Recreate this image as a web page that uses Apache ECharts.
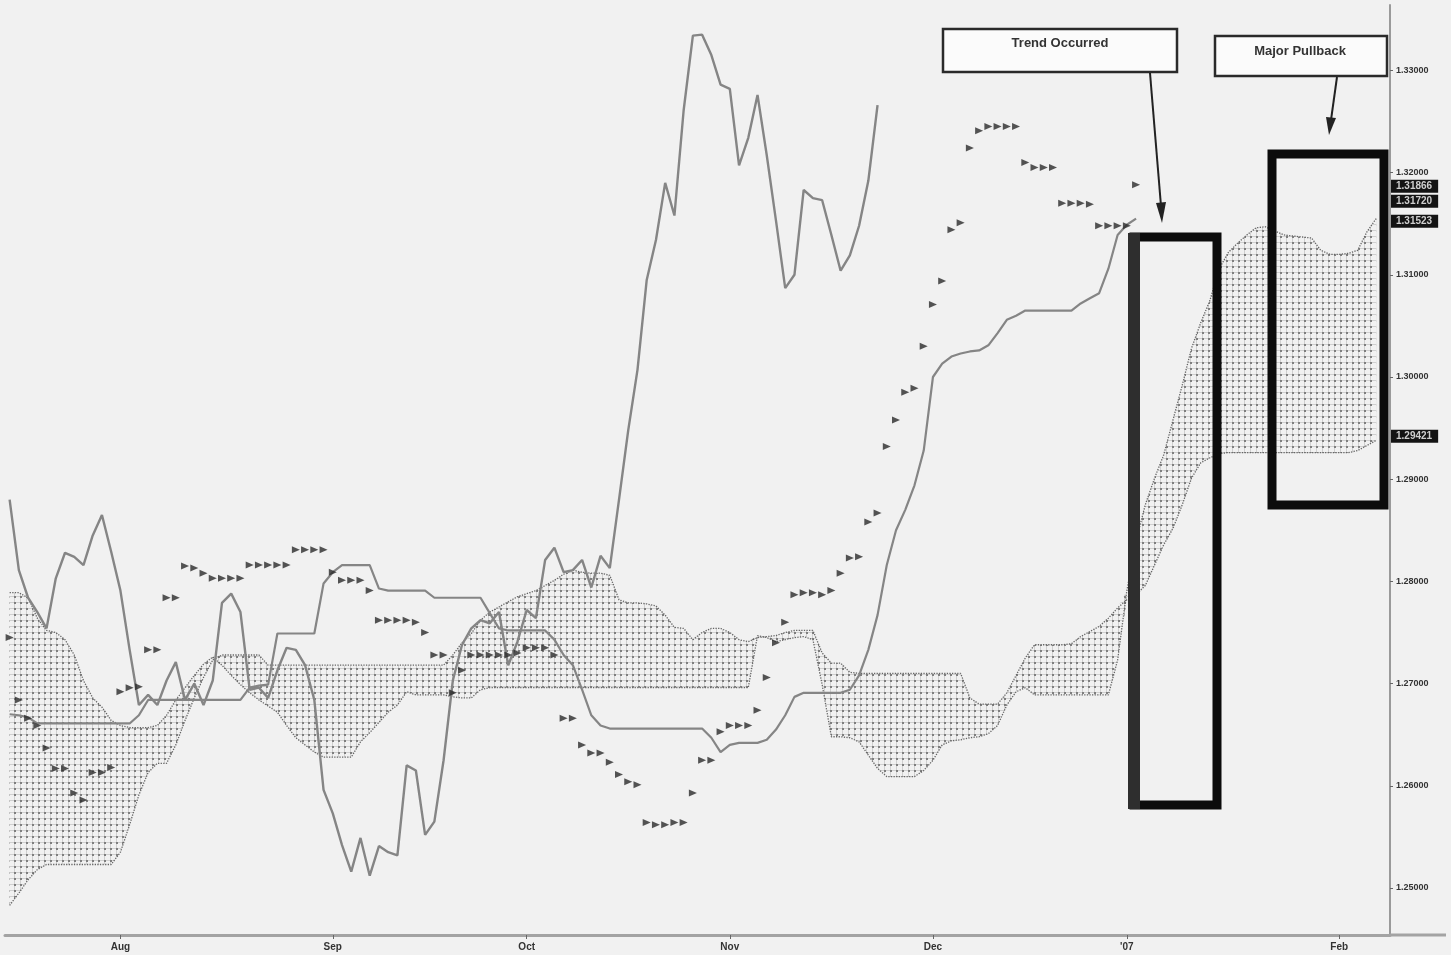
<!DOCTYPE html>
<html><head><meta charset="utf-8">
<script src="https://cdn.jsdelivr.net/npm/echarts@6/dist/echarts.min.js"></script>
<style>html,body{margin:0;padding:0;background:#f1f1f1}#c{width:1451px;height:955px}</style>
</head><body><div id="c"></div><script>
// ---- categories: trading days from 14 Jul 2006 to 8 Feb 2007 ----
const dates = [];
(function(){ const d = new Date(Date.UTC(2006,6,14));
  while (dates.length < 150) { const w = d.getUTCDay(); if (w !== 0 && w !== 6) dates.push(d.toISOString().slice(0,10)); d.setUTCDate(d.getUTCDate()+1); } })();
const monthTicks = {'2006-08-01':'Aug','2006-09-01':'Sep','2006-10-02':'Oct','2006-11-01':'Nov','2006-12-01':'Dec','2007-01-01':"'07",'2007-02-01':'Feb'};
const yTicks = [1.25,1.26,1.27,1.28,1.29,1.30,1.31,1.32,1.33];
const tagValues = [1.31866,1.31720,1.31523,1.29421];

// Chikou span (lagging line)
const chikou = [1.2880,1.2811,1.2784,1.2770,1.2754,1.2803,1.2828,1.2824,1.2816,1.2845,
 1.2865,1.2829,1.2791,1.2733,1.2679,1.2689,1.2679,1.2703,1.2721,1.2684,
 1.2700,1.2679,1.2703,1.2779,1.2788,1.2770,1.2694,1.2696,1.2686,1.2713,
 1.2735,1.2733,1.2718,1.2684,1.2596,1.2573,1.2542,1.2516,1.2549,1.2512,
 1.2541,1.2535,1.2532,1.2620,1.2615,1.2552,1.2565,1.2625,1.2703,1.2738,
 1.2754,1.2762,1.2759,1.2770,1.2718,1.2741,1.2772,1.2764,1.2821,1.2833,
 1.2809,1.2811,1.2821,1.2794,1.2825,1.2813,1.2880,1.2948,1.3007,1.3095,
 1.3134,1.3190,1.3158,1.3261,1.3334,1.3335,1.3315,1.3286,1.3282,1.3207,
 1.3234,1.3276,1.3217,1.3153,1.3087,1.3100,1.3183,1.3175,1.3173,1.3139,
 1.3104,1.3119,1.3148,1.3192,1.3266];

// Kijun-sen (base line)
const kijun = [1.2670,1.2669,1.2667,1.2661,1.2661,1.2661,1.2661,1.2661,1.2661,1.2661,
 1.2661,1.2661,1.2661,1.2661,1.2669,1.2684,1.2684,1.2684,1.2684,1.2684,
 1.2684,1.2684,1.2684,1.2684,1.2684,1.2684,1.2696,1.2698,1.2699,1.2749,
 1.2749,1.2749,1.2749,1.2749,1.2798,1.2809,1.2816,1.2816,1.2816,1.2816,
 1.2793,1.2791,1.2791,1.2791,1.2791,1.2791,1.2784,1.2784,1.2784,1.2784,
 1.2784,1.2784,1.2769,1.2754,1.2752,1.2752,1.2752,1.2752,1.2752,1.2743,
 1.2728,1.2718,1.2694,1.2669,1.2659,1.2656,1.2656,1.2656,1.2656,1.2656,
 1.2656,1.2656,1.2656,1.2656,1.2656,1.2656,1.2647,1.2633,1.2640,1.2642,
 1.2642,1.2642,1.2645,1.2655,1.2669,1.2687,1.2691,1.2691,1.2691,1.2691,
 1.2691,1.2694,1.2708,1.2733,1.2767,1.2816,1.2850,1.2870,1.2894,1.2928,
 1.3000,1.3013,1.3020,1.3023,1.3025,1.3026,1.3031,1.3043,1.3056,1.3060,
 1.3065,1.3065,1.3065,1.3065,1.3065,1.3065,1.3072,1.3077,1.3082,1.3106,
 1.3139,1.3149,1.3155];

// Tenkan-sen (conversion line, drawn as markers)
const tenkan = [1.2745,1.2684,1.2666,1.2659,1.2637,1.2617,1.2617,1.2593,1.2586,1.2613,
 1.2613,1.2618,1.2692,1.2696,1.2697,1.2733,1.2733,1.2784,1.2784,1.2815,
 1.2813,1.2808,1.2803,1.2803,1.2803,1.2803,1.2816,1.2816,1.2816,1.2816,
 1.2816,1.2831,1.2831,1.2831,1.2831,1.2809,1.2801,1.2801,1.2801,1.2791,
 1.2762,1.2762,1.2762,1.2762,1.2760,1.2750,1.2728,1.2728,1.2691,1.2713,
 1.2728,1.2728,1.2728,1.2728,1.2728,1.2730,1.2735,1.2735,1.2735,1.2728,
 1.2666,1.2666,1.2640,1.2632,1.2632,1.2623,1.2611,1.2604,1.2601,1.2564,
 1.2562,1.2562,1.2564,1.2564,1.2593,1.2625,1.2625,1.2653,1.2659,1.2659,
 1.2659,1.2674,1.2706,1.2740,1.2760,1.2787,1.2789,1.2789,1.2787,1.2791,
 1.2808,1.2823,1.2824,1.2858,1.2867,1.2932,1.2958,1.2985,1.2989,1.3030,
 1.3071,1.3094,1.3144,1.3151,1.3224,1.3241,1.3245,1.3245,1.3245,1.3245,
 1.3210,1.3205,1.3205,1.3205,1.3170,1.3170,1.3170,1.3169,1.3148,1.3148,
 1.3148,1.3148,1.3188];

// Senkou span A and B (cloud boundaries, already displaced forward)
const spanA = [1.2789,1.2789,1.2784,1.2764,1.2752,1.2750,1.2743,1.2728,1.2703,1.2686,
 1.2677,1.2664,1.2659,1.2657,1.2657,1.2657,1.2659,1.2669,1.2684,1.2696,
 1.2708,1.2719,1.2726,1.2718,1.2708,1.2699,1.2691,1.2684,1.2678,1.2672,
 1.2659,1.2647,1.2640,1.2633,1.2628,1.2628,1.2628,1.2628,1.2643,1.2652,
 1.2662,1.2672,1.2679,1.2692,1.2689,1.2689,1.2689,1.2689,1.2687,1.2686,
 1.2686,1.2694,1.2696,1.2696,1.2696,1.2696,1.2696,1.2696,1.2696,1.2696,
 1.2696,1.2696,1.2696,1.2696,1.2696,1.2696,1.2696,1.2696,1.2696,1.2696,
 1.2696,1.2696,1.2696,1.2696,1.2696,1.2696,1.2696,1.2696,1.2696,1.2696,
 1.2696,1.2747,1.2745,1.2741,1.2743,1.2745,1.2746,1.2743,1.2699,1.2648,
 1.2648,1.2647,1.2643,1.2630,1.2617,1.2609,1.2609,1.2609,1.2609,1.2615,
 1.2625,1.2640,1.2644,1.2645,1.2647,1.2648,1.2651,1.2659,1.2679,1.2692,
 1.2696,1.2689,1.2689,1.2689,1.2689,1.2689,1.2689,1.2689,1.2689,1.2689,
 1.2723,1.2791,1.2840,1.2875,1.2901,1.2924,1.2958,1.2992,1.3028,1.3053,
 1.3075,1.3106,1.3122,1.3131,1.3139,1.3146,1.3147,1.3143,1.3139,1.3138,
 1.3137,1.3136,1.3124,1.3120,1.3120,1.3121,1.3124,1.3142,1.3155];
const spanB = [1.2483,1.2495,1.2508,1.2518,1.2523,1.2523,1.2523,1.2523,1.2523,1.2523,
 1.2523,1.2523,1.2535,1.2562,1.2591,1.2613,1.2622,1.2622,1.2640,1.2664,
 1.2686,1.2706,1.2723,1.2728,1.2728,1.2728,1.2728,1.2728,1.2718,1.2718,
 1.2718,1.2718,1.2718,1.2718,1.2718,1.2718,1.2718,1.2718,1.2718,1.2718,
 1.2718,1.2718,1.2718,1.2718,1.2718,1.2718,1.2718,1.2718,1.2728,1.2740,
 1.2749,1.2762,1.2770,1.2775,1.2780,1.2785,1.2788,1.2791,1.2796,1.2801,
 1.2807,1.2811,1.2809,1.2808,1.2808,1.2806,1.2782,1.2779,1.2779,1.2778,
 1.2776,1.2767,1.2755,1.2754,1.2743,1.2750,1.2754,1.2754,1.2750,1.2743,
 1.2741,1.2745,1.2746,1.2747,1.2750,1.2752,1.2752,1.2752,1.2730,1.2720,
 1.2720,1.2711,1.2710,1.2710,1.2710,1.2710,1.2710,1.2710,1.2710,1.2710,
 1.2710,1.2710,1.2710,1.2710,1.2686,1.2680,1.2680,1.2680,1.2691,1.2708,
 1.2725,1.2738,1.2738,1.2738,1.2738,1.2739,1.2746,1.2751,1.2756,1.2764,
 1.2774,1.2782,1.2787,1.2796,1.2816,1.2836,1.2852,1.2875,1.2901,1.2916,
 1.2921,1.2925,1.2926,1.2926,1.2926,1.2926,1.2926,1.2926,1.2926,1.2926,
 1.2926,1.2926,1.2926,1.2926,1.2926,1.2926,1.2928,1.2933,1.2938];

// derived table for the cloud fill
const cloudLow = spanA.map((a,i)=>Math.min(a,spanB[i]));
const cloudBand = spanA.map((a,i)=>+Math.abs(a-spanB[i]).toFixed(5));

const pc = document.createElement('canvas'); pc.width = 6; pc.height = 6;
const g = pc.getContext('2d');
g.fillStyle = '#cfcfcf'; g.fillRect(0,2,6,1); g.fillRect(2,0,1,6);
g.fillStyle = '#7e7e7e'; g.fillRect(2,2,2,2);

const chart = echarts.init(document.getElementById('c'));
const isTick = (i, v) => monthTicks[v] !== undefined;
const FONT = 'Liberation Sans, Arial, sans-serif';
const lbl = {fontFamily:FONT, fontWeight:'bold', color:'#333'};

const baseGraphics = [
  {type:'line', shape:{x1:1390,y1:935,x2:1446,y2:935}, style:{stroke:'#a3a3a3', lineWidth:3}, z:10},
  {type:'rect', shape:{x:943,y:29,width:234,height:43}, style:{fill:'#fbfbfb', stroke:'#2a2a2a', lineWidth:2.5}, z:20},
  {type:'text', x:1060, y:43, style:{text:'Trend Occurred', font:'bold 13px '+FONT, fill:'#333', align:'center', verticalAlign:'middle'}, z:21},
  {type:'rect', shape:{x:1215,y:36,width:172,height:40}, style:{fill:'#fbfbfb', stroke:'#2a2a2a', lineWidth:2.5}, z:20},
  {type:'text', x:1300, y:51, style:{text:'Major Pullback', font:'bold 13px '+FONT, fill:'#333', align:'center', verticalAlign:'middle'}, z:21},
  {type:'line', shape:{x1:1150,y1:73,x2:1161,y2:206}, style:{stroke:'#222', lineWidth:2}, z:20},
  {type:'polygon', shape:{points:[[1156,203],[1166,202],[1162,223]]}, style:{fill:'#222'}, z:20},
  {type:'line', shape:{x1:1337,y1:77,x2:1331,y2:120}, style:{stroke:'#222', lineWidth:2}, z:20},
  {type:'polygon', shape:{points:[[1326,117],[1336,118],[1329,135]]}, style:{fill:'#222'}, z:20},
  {type:'rect', shape:{x:1134,y:237,width:83,height:568}, style:{fill:'none', stroke:'#0c0c0c', lineWidth:9}, z:22},
  {type:'rect', shape:{x:1128,y:233,width:12,height:576}, style:{fill:'#2e2e2e'}, z:23},
  {type:'rect', shape:{x:1272,y:154,width:112,height:351}, style:{fill:'none', stroke:'#0c0c0c', lineWidth:9}, z:22}
];

chart.setOption({
  animation:false,
  backgroundColor:'#f1f1f1',
  grid:{left:5,right:61,top:5,bottom:20},
  xAxis:{type:'category', data:dates, boundaryGap:true,
    axisLine:{lineStyle:{color:'#a3a3a3', width:3}},
    axisTick:{show:true, alignWithLabel:true, interval:isTick, length:4, lineStyle:{color:'#666'}},
    axisLabel:Object.assign({interval:isTick, formatter:v=>monthTicks[v]||'', fontSize:10, margin:7}, lbl),
    splitLine:{show:false}},
  yAxis:{type:'value', position:'right', min:1.2454, max:1.3364, scale:true,
    axisLine:{show:true, lineStyle:{color:'#9a9a9a', width:2}},
    axisTick:{show:true, customValues:yTicks, length:3, lineStyle:{color:'#666'}},
    axisLabel:Object.assign({customValues:yTicks, formatter:v=>v.toFixed(5), fontSize:9, margin:6}, lbl),
    splitLine:{show:false}},
  series:[
    {name:'cloudLow', type:'line', stack:'kumo', data:cloudLow, symbol:'none', silent:true, lineStyle:{opacity:0}, z:1},
    {name:'cloud', type:'line', stack:'kumo', data:cloudBand, symbol:'none', silent:true, lineStyle:{opacity:0},
      areaStyle:{color:{image:pc, repeat:'repeat'}, opacity:1}, z:1},
    {name:'Senkou A', type:'line', data:spanA, symbol:'none', lineStyle:{color:'#666', width:1.3, type:'dotted'}, z:2},
    {name:'Senkou B', type:'line', data:spanB, symbol:'none', lineStyle:{color:'#666', width:1.3, type:'dotted'}, z:2},
    {name:'Chikou', type:'line', data:chikou, symbol:'none', lineStyle:{color:'#858585', width:2.4}, z:3},
    {name:'Kijun', type:'line', data:kijun, symbol:'none', lineStyle:{color:'#858585', width:2.2}, z:3},
    {name:'Tenkan', type:'scatter', data:tenkan, symbol:'triangle', symbolRotate:-90, symbolSize:[7,8],
      itemStyle:{color:'#2a2a2a'}, z:4}
  ],
  graphic:baseGraphics
});

// value tags on the price axis, positioned through the axis scale
const tagGraphics = tagValues.map(v => {
  const py = chart.convertToPixel({yAxisIndex:0}, v);
  return {type:'text', x:1391, y:py, z:30,
    style:{text:v.toFixed(5), font:'bold 10px '+FONT, fill:'#cfcfcf', backgroundColor:'#141414',
      padding:[2,6,1,5], verticalAlign:'middle', align:'left'}};
});
chart.setOption({graphic: baseGraphics.concat(tagGraphics)});
</script></body></html>
